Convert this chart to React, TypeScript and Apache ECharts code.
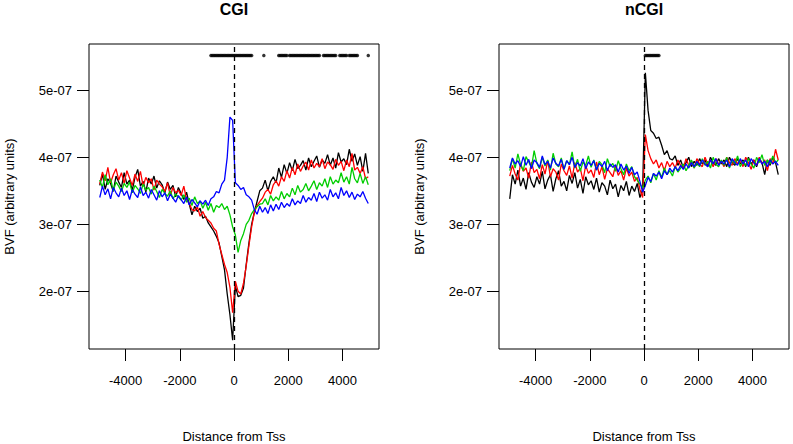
import React, { useEffect, useRef } from "react";
import * as echarts from "echarts";

// Bin centres (distance from TSS, bp)
const positions: number[] = Array.from({ length: 100 }, (_, i) => -4950 + 100 * i);

// Values are BVF in units of 1e-9 (e.g. 362 = 3.62e-07)
const cgiBlack = [
  358, 375, 352, 368, 361, 349, 372, 363, 355, 377, 360, 366, 351, 370, 382, 357, 364, 348, 369, 360,
  372, 354, 365, 359, 347, 363, 352, 358, 341, 355, 346, 337, 348, 330, 314, 327, 319, 324, 309, 312,
  302, 296, 290, 282, 272, 252, 232, 196, 165, 127, 208, 192, 194, 205, 240, 272, 300, 318, 334, 350,
  354, 366, 350, 364, 371, 362, 384, 370, 389, 376, 392, 380, 397, 383, 388, 395, 381, 399, 386, 394,
  402, 385, 396, 391, 404, 388, 399, 384, 407, 393, 398, 389, 412, 394, 405, 388, 401, 379, 406, 376,
];
const cgiRed = [
  360, 378, 365, 385, 362, 374, 383, 366, 377, 361, 380, 369, 358, 375, 364, 379, 357, 370, 362, 368,
  351, 366, 360, 356, 349, 362, 343, 355, 347, 351, 343, 357, 337, 331, 322, 320, 326, 312, 319, 310,
  306, 302, 294, 290, 270, 255, 240, 228, 206, 168, 215, 200, 196, 212, 238, 268, 296, 318, 328, 334,
  339, 348, 352, 345, 359, 365, 357, 371, 364, 380, 369, 385, 374, 390, 379, 387, 393, 381, 396, 384,
  391, 386, 398, 383, 393, 389, 382, 397, 388, 394, 380, 396, 386, 406, 381, 385, 376, 386, 368, 371,
];
const cgiGreen = [
  366, 355, 374, 359, 368, 350, 363, 357, 349, 361, 355, 363, 347, 358, 353, 346, 360, 351, 355, 345,
  357, 349, 340, 352, 346, 342, 350, 338, 345, 341, 336, 344, 333, 339, 328, 341, 331, 335, 324, 333,
  321, 331, 318, 328, 325, 331, 322, 327, 314, 296, 284, 258, 276, 286, 300, 306, 316, 322, 326, 330,
  331, 338, 329, 343, 335, 341, 336, 349, 338, 346, 341, 354, 344, 358, 348, 352, 361, 350, 357, 365,
  352, 362, 357, 368, 355, 371, 360, 366, 362, 377, 363, 371, 360, 385, 368, 362, 376, 361, 371, 359,
];
const cgiBlue = [
  340, 357, 344, 353, 338, 355, 347, 341, 354, 343, 350, 337, 352, 345, 340, 356, 343, 348, 339, 352,
  344, 336, 350, 341, 347, 335, 345, 339, 333, 343, 337, 331, 341, 329, 337, 332, 326, 335, 330, 336,
  328, 338, 341, 349, 347, 360, 366, 400, 460, 455, 362, 358, 352, 355, 344, 341, 336, 322, 315, 327,
  318, 325, 316, 329, 320, 330, 322, 333, 325, 331, 327, 338, 329, 335, 331, 343, 333, 340, 336, 346,
  334, 348, 339, 344, 336, 352, 341, 347, 338, 355, 343, 350, 340, 348, 337, 345, 341, 349, 339, 331,
];
const ncgiBlack = [
  338, 374, 360, 381, 357, 369, 352, 377, 363, 355, 371, 360, 379, 353, 366, 374, 349, 368, 380, 357,
  364, 350, 373, 361, 377, 354, 367, 346, 371, 359, 365, 352, 369, 348, 362, 357, 344, 366, 353, 360,
  341, 358, 350, 364, 343, 357, 349, 361, 340, 352, 526, 470, 440, 436, 428, 430, 418, 404, 410, 398,
  396, 402, 388, 396, 384, 392, 400, 386, 394, 388, 398, 390, 396, 386, 400, 392, 388, 398, 390, 396,
  386, 400, 392, 388, 398, 390, 396, 386, 400, 390, 396, 386, 398, 392, 374, 396, 388, 400, 392, 374,
];
const ncgiRed = [
  372, 388, 375, 366, 391, 379, 384, 369, 393, 377, 382, 368, 389, 375, 395, 371, 383, 378, 366, 390,
  380, 373, 387, 369, 392, 378, 384, 365, 388, 376, 381, 370, 393, 374, 386, 367, 383, 377, 371, 388,
  373, 380, 366, 384, 372, 378, 364, 370, 352, 340, 434, 410, 398, 390, 396, 384, 392, 380, 394, 386,
  392, 384, 396, 388, 384, 398, 388, 394, 384, 398, 390, 386, 400, 390, 396, 386, 398, 390, 394, 386,
  400, 392, 388, 398, 390, 396, 386, 400, 392, 382, 396, 388, 400, 390, 396, 380, 398, 390, 412, 396,
];
const ncgiGreen = [
  380, 398, 384, 405, 389, 380, 401, 393, 385, 410, 391, 383, 400, 387, 396, 381, 406, 390, 386, 399,
  382, 395, 389, 408, 384, 397, 379, 393, 388, 402, 385, 396, 381, 394, 389, 377, 398, 386, 391, 379,
  395, 383, 374, 390, 380, 386, 371, 366, 360, 354, 366, 372, 362, 376, 366, 380, 370, 384, 374, 380,
  372, 386, 378, 384, 390, 380, 388, 396, 384, 392, 386, 398, 388, 394, 384, 400, 390, 386, 396, 388,
  400, 384, 396, 390, 402, 386, 394, 388, 398, 390, 384, 400, 392, 404, 388, 396, 390, 402, 392, 396,
];
const ncgiBlue = [
  384, 399, 390, 395, 386, 401, 388, 397, 383, 396, 392, 385, 402, 389, 394, 384, 399, 391, 387, 397,
  382, 395, 389, 400, 385, 392, 387, 398, 383, 393, 388, 395, 381, 391, 386, 394, 380, 390, 385, 389,
  378, 390, 381, 387, 376, 385, 374, 378, 364, 348, 358, 370, 364, 376, 372, 378, 368, 380, 374, 384,
  378, 386, 380, 388, 382, 390, 384, 392, 386, 394, 388, 396, 390, 386, 396, 390, 398, 388, 394, 390,
  396, 386, 398, 392, 388, 398, 390, 396, 386, 398, 392, 388, 398, 390, 394, 386, 396, 390, 394, 388,
];

// Significant bins (dots along the top)
const cgiSig = [
  -850, -800, -750, -700, -650, -600, -550, -500, -450, -400, -350, -300, -250, -200, -150, -100,
  -50, 0, 50, 100, 150, 200, 250, 300, 350, 400, 450, 500, 550, 600, 650,
  1100,
  1650, 1700, 1750, 1800, 1850, 1900, 1950,
  2050, 2100, 2150, 2200, 2250, 2300, 2350, 2400, 2450, 2500, 2550, 2600, 2650, 2700, 2750, 2800,
  2850, 2900, 2950, 3000, 3050, 3100, 3150,
  3300, 3350, 3400, 3450, 3500, 3550, 3600, 3650, 3700, 3750,
  3900, 3950, 4000, 4050, 4100, 4150,
  4250, 4300, 4350, 4400, 4450, 4500, 4550,
  4950,
];
const ncgiSig = [50, 100, 150, 200, 250, 300, 350, 400, 450, 500, 550];
const sigLevel = 552;

const xTicks = [-4000, -2000, 0, 2000, 4000];
const yTicks = [200, 300, 400, 500];
const panelTitles = ["CGI", "nCGI"];
const colors = ["#000000", "#FF0000", "#00CD00", "#0000FF"];

const FONT = "Liberation Sans, Arial, sans-serif";

export default function App() {
  const ref = useRef<HTMLDivElement>(null);
  useEffect(() => {
    if (!ref.current) return;
    const chart = echarts.init(ref.current, null, { renderer: "svg" });
    const panels = [
      { lines: [cgiBlack, cgiRed, cgiGreen, cgiBlue], sig: cgiSig },
      { lines: [ncgiBlack, ncgiRed, ncgiGreen, ncgiBlue], sig: ncgiSig },
    ];
    const lefts = [89, 499];
    const centers = [234, 644];
    const series: any[] = [];
    panels.forEach((p, pi) => {
      p.lines.forEach((arr, si) => {
        series.push({
          type: "line",
          xAxisIndex: pi,
          yAxisIndex: pi,
          showSymbol: false,
          symbol: "none",
          data: positions.map((x, i) => [x, arr[i]]),
          lineStyle: { color: colors[si], width: 1.3 },
          itemStyle: { color: colors[si] },
        });
      });
      series.push({
        type: "scatter",
        xAxisIndex: pi,
        yAxisIndex: pi,
        symbolSize: 3.5,
        itemStyle: { color: "#000" },
        data: p.sig.map((x) => [x, sigLevel]),
        markLine: {
          silent: true,
          symbol: ["none", "none"],
          label: { show: false },
          lineStyle: { color: "#000", width: 1.3, type: [5, 4] },
          data: [{ xAxis: 0 }],
        },
      });
    });
    chart.setOption({
      animation: false,
      backgroundColor: "#fff",
      title: panelTitles.map((t, i) => ({
        text: t,
        left: centers[i],
        top: 1,
        padding: 0,
        textAlign: "center",
        textStyle: { fontSize: 16, fontWeight: "bold", color: "#000", fontFamily: FONT },
      })),
      grid: lefts.map((l) => ({
        left: l,
        width: 290,
        top: 44,
        height: 305,
        outerBoundsMode: "none",
        containLabel: false,
        show: true,
        borderColor: "#000",
        borderWidth: 1,
        backgroundColor: "transparent",
      })),
      xAxis: lefts.map((_, i) => ({
        type: "value",
        gridIndex: i,
        position: "bottom",
        min: -5346,
        max: 5346,
        name: "Distance from Tss",
        nameLocation: "middle",
        nameGap: 81,
        nameTextStyle: { fontSize: 13, color: "#000", fontFamily: FONT },
        axisLine: { show: false, onZero: false },
        splitLine: { show: false },
        axisTick: { show: true, inside: false, length: 12, customValues: xTicks, lineStyle: { color: "#000", width: 1 } },
        axisLabel: {
          customValues: xTicks,
          fontSize: 13,
          color: "#000",
          fontFamily: FONT,
          margin: 25,
          formatter: (v: number) => String(v),
        },
      })),
      yAxis: lefts.map((_, i) => ({
        type: "value",
        gridIndex: i,
        position: "left",
        min: 113.9,
        max: 569.1,
        name: "BVF (arbitrary units)",
        nameLocation: "middle",
        nameGap: 73,
        nameTextStyle: { fontSize: 13, color: "#000", fontFamily: FONT },
        axisLine: { show: false, onZero: false },
        splitLine: { show: false },
        axisTick: { show: true, inside: false, length: 12, customValues: yTicks, lineStyle: { color: "#000", width: 1 } },
        axisLabel: {
          customValues: yTicks,
          fontSize: 13,
          color: "#000",
          fontFamily: FONT,
          margin: 17,
          formatter: (v: number) => `${Math.round(v / 100)}e-07`,
        },
      })),
      series,
    });
    return () => chart.dispose();
  }, []);
  return (
    <div
      ref={ref}
      style={{ position: "fixed", left: 0, top: 0, width: 793, height: 444 }}
    />
  );
}
